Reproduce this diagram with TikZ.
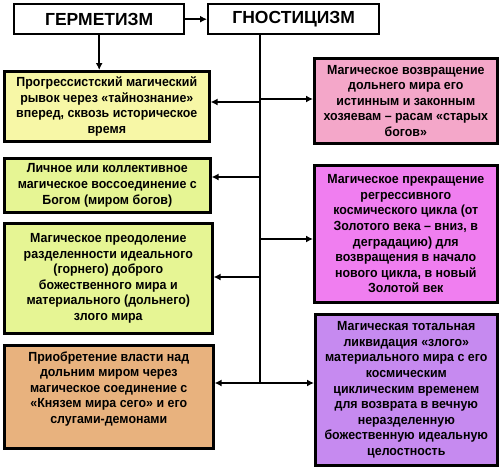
\documentclass[tikz,border=0pt]{standalone}
\usepackage{fontspec}
\setmainfont{Liberation Sans}
\newfontfamily\bodyfont[FakeStretch=0.94]{Liberation Sans}
\usetikzlibrary{arrows.meta}
\definecolor{cYel}{HTML}{F7F7A6}
\definecolor{cLime}{HTML}{E6F594}
\definecolor{cPink}{HTML}{F4A7C9}
\definecolor{cMag}{HTML}{F07EF0}
\definecolor{cPur}{HTML}{C68AF0}
\definecolor{cOra}{HTML}{E8B27E}
\begin{document}
\begin{tikzpicture}[x=1pt,y=-1pt,
  box/.style={draw=black, line width=2.6pt, inner sep=0pt, anchor=north west, align=center,
    font=\bodyfont\bfseries\fontsize{13.2}{15.6}\selectfont},
  boxtext/.style={inner sep=0pt, align=center, font=\bodyfont\bfseries\fontsize{13.2}{15.6}\selectfont},
  title/.style={draw=black, line width=2.4pt, fill=white, inner sep=0pt, anchor=north west,
    font=\bfseries\fontsize{17.5}{20}\selectfont},
  conn/.style={line width=2pt},
  arr/.style={line width=2pt, -{Latex[length=7pt,width=7pt]}}]
\useasboundingbox (0,0) rectangle (500,466);
% titles
\node[title, minimum width=170pt, minimum height=30pt] (herm) at (13,3) {ГЕРМЕТИЗМ};
\node[title, minimum width=171pt, minimum height=30pt] (gnos) at (207,3) {ГНОСТИЦИЗМ};
% left boxes
\node[box, fill=cYel, minimum width=205pt, minimum height=70pt] (b1) at (3,70)
  {Прогрессистский магический\\рывок через «тайнознание»\\вперед, сквозь историческое\\время};
\node[box, fill=cLime, minimum width=206pt, minimum height=54pt] (b2) at (3,157)
  {Личное или коллективное\\магическое воссоединение с\\Богом (миром богов)};
\node[box, fill=cLime, minimum width=208pt, minimum height=110pt] (b3) at (3,222)
  {Магическое преодоление\\разделенности идеального\\(горнего) доброго\\божественного мира и\\материального (дольнего)\\злого мира};
\node[box, fill=cOra, minimum width=209pt, minimum height=103pt] (b4) at (3,344) {};
\node[boxtext] (b4t) at ([yshift=8pt]b4.center)
  {Приобретение власти над\\дольним миром через\\магическое соединение с\\«Князем мира сего» и его\\слугами-демонами};
% right boxes
\node[box, fill=cPink, minimum width=183pt, minimum height=85pt] (p1) at (313,57)
  {Магическое возвращение\\дольнего мира его\\истинным и законным\\хозяевам – расам «старых\\богов»};
\node[box, fill=cMag, minimum width=183pt, minimum height=137pt] (p2) at (313,164)
  {Магическое прекращение\\регрессивного\\космического цикла (от\\Золотого века – вниз, в\\деградацию) для\\возвращения в начало\\нового цикла, в новый\\Золотой век};
\node[box, fill=cPur, minimum width=182pt, minimum height=151pt] (p3) at (314,313)
  {Магическая тотальная\\ликвидация «злого»\\материального мира с его\\космическим\\циклическим временем\\для возврата в вечную\\неразделенную\\божественную идеальную\\целостность};
% junctions on the spine
\coordinate (spine) at (260,0);
\coordinate (j1l) at (260,102);
\coordinate (j1r) at (260,99);
\coordinate (j2) at (260,177);
\coordinate (j3r) at (260,239);
\coordinate (j3l) at (260,277);
\coordinate (j4) at (260,383);
% connectors
\draw[arr] (herm.east) -- (gnos.west);
\draw[arr] (herm.south) -- (herm.south |- b1.north);
\draw[conn] (gnos.south -| spine) -- (j4);
\draw[arr] (j1l) -- (j1l -| b1.east);
\draw[arr] (j1r) -- (j1r -| p1.west);
\draw[arr] (j2) -- (j2 -| b2.east);
\draw[arr] (j3r) -- (j3r -| p2.west);
\draw[arr] (j3l) -- (j3l -| b3.east);
\draw[arr] (j4) -- (j4 -| b4.east);
\draw[arr] (j4) -- (j4 -| p3.west);
\end{tikzpicture}
\end{document}
